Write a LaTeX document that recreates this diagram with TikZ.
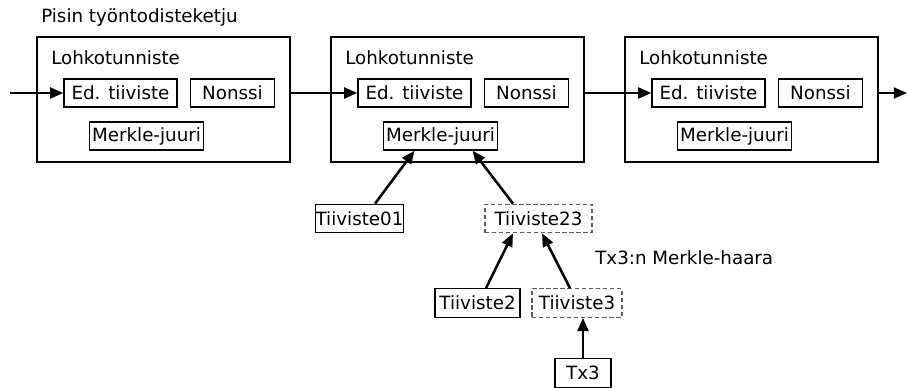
\documentclass[tikz,border=0pt]{standalone}
\usepackage{fontspec}
\setmainfont{DejaVu Sans}
\usetikzlibrary{arrows.meta}
\definecolor{dashgray}{RGB}{90,90,90}
\begin{document}
\begin{tikzpicture}[
x=0.25mm, y=-0.25mm,
every node/.style={font=\fontsize{13}{15}\selectfont, inner sep=0pt},
blockbox/.style={draw, line width=1.1pt, minimum width=63.25mm, minimum height=31.25mm},
fieldbox/.style={draw, line width=0.9pt, minimum height=7mm},
hashbox/.style={draw, line width=0.9pt, minimum height=7.1mm},
branchbox/.style={draw=dashgray, densely dashed, line width=0.9pt, minimum height=7.1mm},
link/.style={line width=1.8pt, -{Triangle[length=3.3mm, width=2.7mm]}}
]
\useasboundingbox (0,0) rectangle (907,388);

\node at (41, 17) [anchor=west] {Pisin työntodisteketju};

% lohko 1
\node (blk1) at (163.5, 99.5) [blockbox] {};
\node at (51, 58) [anchor=west] {Lohkotunniste};
\node (ed1) at (120.5, 93) [fieldbox, minimum width=28.25mm] {Ed. tiiviste};
\node (non1) at (232.5, 93) [fieldbox, minimum width=21mm] {Nonssi};
\node (mr1) at (146.5, 136) [fieldbox, minimum width=28.5mm] {Merkle-juuri};

% lohko 2
\node (blk2) at (457.5, 99.5) [blockbox] {};
\node at (345, 58) [anchor=west] {Lohkotunniste};
\node (ed2) at (414.5, 93) [fieldbox, minimum width=28.25mm] {Ed. tiiviste};
\node (non2) at (526.5, 93) [fieldbox, minimum width=21mm] {Nonssi};
\node (mr2) at (440.5, 136) [fieldbox, minimum width=28.5mm] {Merkle-juuri};

% lohko 3
\node (blk3) at (751.5, 99.5) [blockbox] {};
\node at (639, 58) [anchor=west] {Lohkotunniste};
\node (ed3) at (708.5, 93) [fieldbox, minimum width=28.25mm] {Ed. tiiviste};
\node (non3) at (820.5, 93) [fieldbox, minimum width=21mm] {Nonssi};
\node (mr3) at (734.5, 136) [fieldbox, minimum width=28.5mm] {Merkle-juuri};

\coordinate (chainin) at (10, 93);
\coordinate (chainout) at (907, 93);
\draw[link] (chainin) -- (ed1.west);
\draw[link] (blk1.east |- ed1) -- (ed2.west);
\draw[link] (blk2.east |- ed2) -- (ed3.west);
\draw[link] (blk3.east |- ed3) -- (chainout);

% Merkle-puu
\node (t01) at (359.5, 218.5) [hashbox, minimum width=21.75mm] {Tiiviste01};
\node (t23) at (538.5, 218.5) [branchbox, minimum width=26.75mm] {Tiiviste23};
\node (t2) at (477.5, 303) [hashbox, minimum width=21.25mm] {Tiiviste2};
\node (t3) at (577, 303) [branchbox, minimum width=22.5mm] {Tiiviste3};
\node (tx3) at (583, 373) [hashbox, minimum width=14mm] {Tx3};
\node at (595, 258) [anchor=west] {Tx3:n Merkle-haara};

\draw[link] ([xshift=15.5*0.25mm]t01.north) -- ([xshift=-26*0.25mm]mr2.south);
\draw[link] ([xshift=-25.5*0.25mm]t23.north) -- ([xshift=32*0.25mm]mr2.south);
\draw[link] ([xshift=8.5*0.25mm]t2.north) -- ([xshift=-25.5*0.25mm]t23.south);
\draw[link] ([xshift=-7*0.25mm]t3.north) -- ([xshift=3.5*0.25mm]t23.south);
\draw[link] (tx3.north) -- (tx3.north |- t3.south);

\end{tikzpicture}
\end{document}
